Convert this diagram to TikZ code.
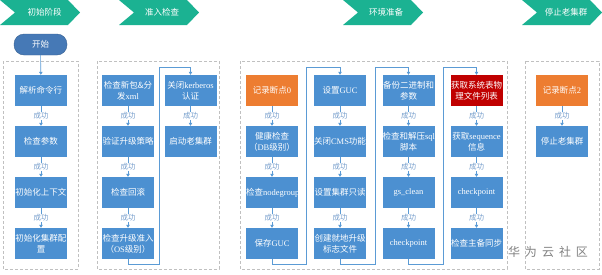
\documentclass[tikz,border=0pt]{standalone}
\usepackage{fontspec}
\setmainfont{Noto Sans CJK SC}
\newfontfamily\engfont{Liberation Serif}
\newcommand\engl[1]{{\engfont #1}}
\usetikzlibrary{arrows.meta}

\definecolor{stagegreen}{RGB}{27,178,146}
\definecolor{taskblue}{RGB}{76,144,209}
\definecolor{startblue}{RGB}{70,121,182}
\definecolor{markorange}{RGB}{237,125,49}
\definecolor{markred}{RGB}{192,0,0}
\definecolor{flowline}{RGB}{91,155,213}
\definecolor{oklabel}{RGB}{118,158,204}
\definecolor{groupline}{RGB}{192,192,192}

\tikzset{
  stage/.style={fill=stagegreen},
  stagetext/.style={text=white, inner sep=0pt, font=\fontsize{8.5}{10}\selectfont},
  taskbox/.style={fill=taskblue, text=white, text width=52pt, minimum height=31pt,
    inner xsep=0pt, inner ysep=1pt, align=center, font=\fontsize{8.5}{11}\selectfont},
  markbox/.style={taskbox, fill=markorange},
  alertbox/.style={taskbox, fill=markred},
  startbox/.style={fill=startblue, draw=startblue!80!black, line width=0.4pt, text=white,
    rounded corners=10pt, minimum width=53pt, minimum height=21pt,
    font=\fontsize{8.5}{10}\selectfont},
  group/.style={draw=groupline, line width=0.7pt, dash pattern=on 3pt off 2pt},
  flow/.style={draw=flowline, line width=0.6pt, -{Triangle[length=3pt,width=3.5pt]}},
  ok/.style={fill=white, text=oklabel, inner sep=1pt, font=\fontsize{7.5}{8}\selectfont},
}

\begin{document}
\begin{tikzpicture}[x=1pt, y=-1pt]
  \useasboundingbox (0,0) rectangle (602,274);

  % stage headers
  \fill[stage] (0,0) -- (68,0) -- (80,12.5) -- (68,25) -- (0,25) -- (15,12.5) -- cycle;
  \fill[stage] (119,0) -- (187,0) -- (199,12.5) -- (187,25) -- (119,25) -- (134,12.5) -- cycle;
  \fill[stage] (343,0) -- (411,0) -- (423,12.5) -- (411,25) -- (343,25) -- (358,12.5) -- cycle;
  \fill[stage] (522,0) -- (590,0) -- (602,12.5) -- (590,25) -- (522,25) -- (537,12.5) -- cycle;
  \node[stagetext] (S1) at (44.5,12.5) {初始阶段};
  \node[stagetext] (S2) at (162,12.5) {准入检查};
  \node[stagetext] (S3) at (386,12.5) {环境准备};
  \node[stagetext] (S4) at (566,12.5) {停止老集群};

  % dashed groups
  \draw[group] (3,61) rectangle (78,269);
  \draw[group] (97,61) rectangle (219,269);
  \draw[group] (240,61) rectangle (507,269);
  \draw[group] (525,61) rectangle (599,269);

  \node[startbox] (Start) at (40.5,44.5) {开始};

  % group 1
  \node[taskbox] (A1) at (41,90.5) {解析命令行};
  \node[taskbox] (A2) at (41,141.5) {检查参数};
  \node[taskbox] (A3) at (41,192.5) {初始化上下文};
  \node[taskbox] (A4) at (41,243.5) {初始化集群配\\置};

  % group 2
  \node[taskbox] (B1) at (128,90.5) {检查新包\&分\\发\engl{xml}};
  \node[taskbox] (B2) at (128,141.5) {验证升级策略};
  \node[taskbox] (B3) at (128,192.5) {检查回滚};
  \node[taskbox] (B4) at (128,243.5) {检查升级准入\\（\engl{OS}级别）};
  \node[taskbox] (B5) at (190.5,90.5) {关闭\engl{kerberos}\\认证};
  \node[taskbox] (B6) at (190.5,141.5) {启动老集群};

  % group 3
  \node[markbox] (C1) at (272,90.5) {记录断点\engl{0}};
  \node[taskbox] (C2) at (272,141.5) {健康检查\\（\engl{DB}级别）};
  \node[taskbox] (C3) at (272,192.5) {检查\engl{nodegroup}};
  \node[taskbox] (C4) at (272,243.5) {保存\engl{GUC}};
  \node[taskbox] (C5) at (340,90.5) {设置\engl{GUC}};
  \node[taskbox] (C6) at (340,141.5) {关闭\engl{CMS}功能};
  \node[taskbox] (C7) at (340,192.5) {设置集群只读};
  \node[taskbox] (C8) at (340,243.5) {创建就地升级\\标志文件};
  \node[taskbox] (C9) at (408.5,90.5) {备份二进制和\\参数};
  \node[taskbox] (C10) at (408.5,141.5) {检查和解压\engl{sql}\\脚本};
  \node[taskbox] (C11) at (408.5,192.5) {\engl{gs\_clean}};
  \node[taskbox] (C12) at (408.5,243.5) {\engl{checkpoint}};
  \node[alertbox] (C13) at (476.5,90.5) {获取系统表物\\理文件列表};
  \node[taskbox] (C14) at (476.5,141.5) {获取\engl{sequence}\\信息};
  \node[taskbox] (C15) at (476.5,192.5) {\engl{checkpoint}};
  \node[taskbox] (C16) at (476.5,243.5) {检查主备同步};

  % group 4
  \node[markbox] (D1) at (562,90.5) {记录断点\engl{2}};
  \node[taskbox] (D2) at (562,141.5) {停止老集群};

  \node[text=black!50, font=\fontsize{12}{12}\selectfont] (Mark) at (548,252)
    {华\hspace{5pt}为\hspace{5pt}云\hspace{5pt}社\hspace{5pt}区};

  % turning points between columns
  \coordinate (J1) at (159,67);
  \coordinate (J2) at (306,67);
  \coordinate (J3) at (375,67);
  \coordinate (J4) at (443,67);

  \path[flow] (Start) -- (A1);
  \path[flow] (A1) -- node[ok] {成功} (A2);
  \path[flow] (A2) -- node[ok] {成功} (A3);
  \path[flow] (A3) -- node[ok] {成功} (A4);
  \path[flow] (B1) -- node[ok] {成功} (B2);
  \path[flow] (B2) -- node[ok] {成功} (B3);
  \path[flow] (B3) -- node[ok] {成功} (B4);
  \path[flow] (B4.south) -- ++(0,5) -| (J1) -| (B5.north);
  \path[flow] (B5) -- node[ok] {成功} (B6);
  \path[flow] (C1) -- node[ok] {成功} (C2);
  \path[flow] (C2) -- node[ok] {成功} (C3);
  \path[flow] (C3) -- node[ok] {成功} (C4);
  \path[flow] (C4.south) -- ++(0,5) -| (J2) -| (C5.north);
  \path[flow] (C5) -- node[ok] {成功} (C6);
  \path[flow] (C6) -- node[ok] {成功} (C7);
  \path[flow] (C7) -- node[ok] {成功} (C8);
  \path[flow] (C8.south) -- ++(0,5) -| (J3) -| (C9.north);
  \path[flow] (C9) -- node[ok] {成功} (C10);
  \path[flow] (C10) -- node[ok] {成功} (C11);
  \path[flow] (C11) -- node[ok] {成功} (C12);
  \path[flow] (C12.south) -- ++(0,5) -| (J4) -| (C13.north);
  \path[flow] (C13) -- node[ok] {成功} (C14);
  \path[flow] (C14) -- node[ok] {成功} (C15);
  \path[flow] (C15) -- node[ok] {成功} (C16);
  \path[flow] (D1) -- node[ok] {成功} (D2);
\end{tikzpicture}
\end{document}
